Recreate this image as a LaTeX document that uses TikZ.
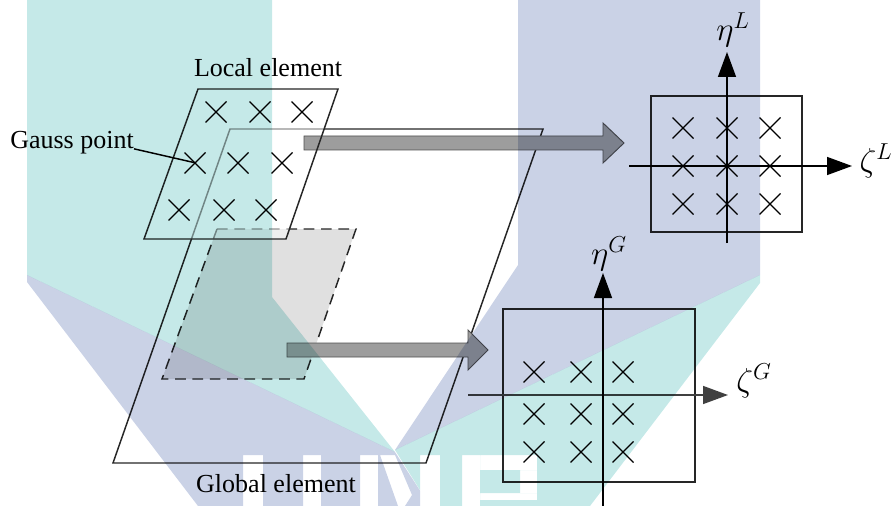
\documentclass[tikz,border=0pt]{standalone}
\usepackage[no-math]{fontspec}
\setmainfont{Liberation Serif}
\usetikzlibrary{arrows.meta}
\definecolor{umpTeal}{HTML}{C5E9E8}
\definecolor{umpBlue}{HTML}{CAD2E6}
\definecolor{arrGray}{HTML}{9D9D9D}
\definecolor{arrEdge}{HTML}{505050}
\definecolor{dashGray}{HTML}{E0E0E0}

\begin{document}
\begin{tikzpicture}[x=0.75pt,y=-0.75pt,
  elem/.style={draw=black!85,line width=1.1pt},
  box/.style={draw=black!85,line width=1.1pt},
  axis/.style={line width=1.1pt,-{Triangle[length=18.75pt,width=13.5pt]}},
  gpt/.style={line width=1pt},
  lbl/.style={font=\fontsize{19.5}{22}\selectfont,inner sep=0pt},
  mlbl/.style={font=\fontsize{26}{30}\selectfont,inner sep=0pt}]
\newcommand{\gcross}[2]{%
  \draw[gpt] (#1-10.5,#2-10.5) -- (#1+10.5,#2+10.5) (#1-10.5,#2+10.5) -- (#1+10.5,#2-10.5);}
\newcommand{\blockarr}[4]{%
  \filldraw[fill=arrGray,draw=arrEdge,line width=0.7pt] (#1,#4-7) -- (#2,#4-7) -- (#2,#4-20)
    -- (#3,#4) -- (#2,#4+20) -- (#2,#4+7) -- (#1,#4+7) -- cycle;}
\useasboundingbox (0,0) rectangle (892,506);

% global element and the dashed patch
\draw[elem] (230,129) -- (543,129) -- (426,463) -- (113,463) -- cycle;
\filldraw[fill=dashGray,draw=black!85,line width=1.1pt,dash pattern=on 8pt off 5pt]
  (217,229) -- (356,229) -- (304,379) -- (162,379) -- cycle;

% local element
\fill[white,fill opacity=0.5] (198,89) -- (338,89) -- (286,239) -- (144,239) -- cycle;
\blockarr{304}{603}{624}{143}
\blockarr{287}{468}{488}{350}
\draw[elem] (198,89) -- (338,89) -- (286,239) -- (144,239) -- cycle;
\foreach \x/\y in {216/112,260/112,302/112,195/163,238/163,282/163,179/210,224/210,266/210}
  {\gcross{\x}{\y}}

\node[lbl] (loclbl) at (268,68) {Local element};
\node[lbl] (globlbl) at (276,484) {Global element};
\node[lbl,anchor=west] (gausslbl) at (10,143) {Gauss point};
\coordinate (gp) at (196,163);
\draw[line width=1.1pt] (gausslbl.base east) -- (gp);

% local reference square
\draw[box] (651,96) rectangle (802,232);
\coordinate (lxa) at (629,166);
\coordinate (lxb) at (852,166);
\coordinate (lya) at (727,243);
\coordinate (lyb) at (727,52);
\draw[axis] (lxa) -- (lxb);
\draw[axis] (lya) -- (lyb);
\foreach \x in {683,727,770}
  \foreach \y in {128,166,204} {\gcross{\x}{\y}}
\node[mlbl] (etal) at (733,30) {$\eta^L$};
\node[mlbl] (zetal) at (876,161) {$\zeta^L$};

% global reference square
\draw[box] (503,309) rectangle (695,482);
\coordinate (gxa) at (468,395);
\coordinate (gxb) at (728,395);
\coordinate (gya) at (603,506);
\coordinate (gyb) at (603,273);
\draw[axis,color=black!75] (gxa) -- (gxb);
\draw[axis] (gya) -- (gyb);
\foreach \x in {534,581,623}
  \foreach \y in {372,414,452} {\gcross{\x}{\y}}
\node[mlbl] (etag) at (609,254) {$\eta^G$};
\node[mlbl] (zetag) at (754,381) {$\zeta^G$};

% watermark
\begin{scope}[blend mode=multiply,even odd rule]
\clip (0,0) rectangle (892,506)
  (243,455) rectangle (263,506) (303,455) rectangle (321,506)
  (360,455) rectangle (378,506) (380,455) -- (395,455) -- (412,495) -- (405,506) -- (398,506) -- cycle
  (420,455) rectangle (440,506) (462,455) rectangle (480,506)
  (480,455) rectangle (537,470) (520,470) rectangle (537,493) (480,493) rectangle (537,500);
\fill[umpTeal] (27,0) -- (272,0) -- (272,297) -- (395,452) -- (27,275) -- cycle;
\fill[umpBlue] (27,275) -- (395,452) -- (430,506) -- (198,506) -- (27,282) -- cycle;
\fill[umpBlue] (518,0) -- (760,0) -- (760,275) -- (395,450) -- (518,265) -- cycle;
\fill[umpTeal] (760,275) -- (760,283) -- (590,506) -- (430,506) -- (395,450) -- cycle;
\end{scope}
\end{tikzpicture}
\end{document}
